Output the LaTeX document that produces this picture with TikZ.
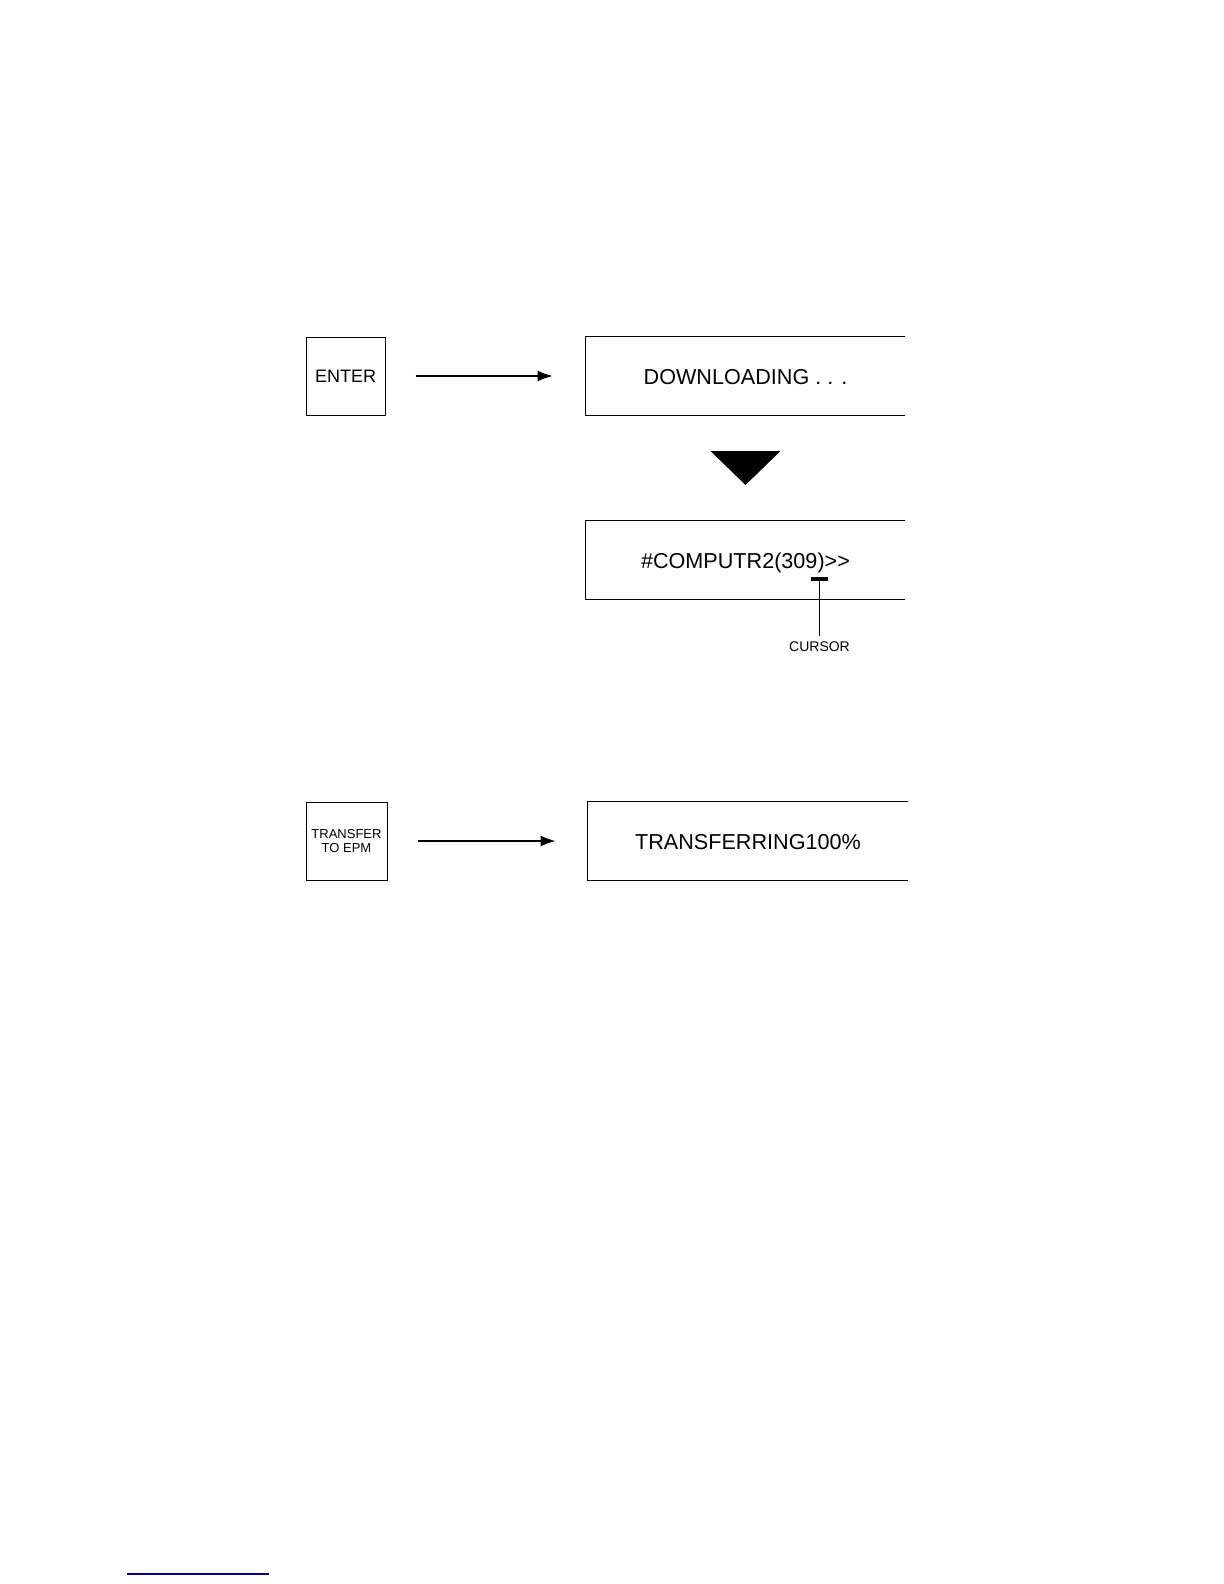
\documentclass[tikz,border=0pt]{standalone}
\usepackage{fontspec}
\setmainfont{Liberation Sans}
\usetikzlibrary{arrows.meta}
\colorlet{linkcol}{blue!55!black}
\tikzset{>={Latex[length=7.5pt,width=5.5pt]}}
\tikzstyle{key} = [draw, line width=0.5pt, minimum width=39.5pt, minimum height=39pt,
                   inner sep=0pt, align=center]
\tikzstyle{screen} = [minimum width=159.5pt, minimum height=39pt, inner sep=0pt,
                      text height=8.1pt, text depth=0pt,
                      font=\fontsize{10.8}{13}\selectfont]
\tikzstyle{frame} = [line width=0.6pt]
\tikzstyle{push} = [->, line width=0.8pt]

\begin{document}
\begin{tikzpicture}[x=0.5pt,y=-0.5pt]
  \useasboundingbox (0,0) rectangle (1224,1584);

  % KEYS
  \node[key, font=\fontsize{9}{10}\selectfont] (enter) at (345.5,376) {ENTER};
  \node[key, minimum width=40.5pt, font=\fontsize{6.5}{7}\selectfont] (xfer) at (346.5,841)
    {TRANSFER\\TO EPM};

  % SCREENS (open on the right)
  \node[screen] (dload) at (745.5,376) {DOWNLOADING . . .};
  \node[screen] (comp) at (745.5,560) {\#COMPUTR2(309)>{}>};
  \node[screen, minimum width=160pt] (xferring) at (748,841) {TRANSFERRING100\%};
  \foreach \s in {dload,comp,xferring}
    \draw[frame] (\s.north east) -- (\s.north west) -- (\s.south west) -- (\s.south east);

  % KEY PRESSES
  \draw[push, shorten <=15pt, shorten >=16.5pt] (enter) -- (dload);
  \draw[push, shorten <=15pt, shorten >=16pt] (xfer) -- (xferring);

  % NEXT SCREEN
  \fill (710.5,451) -- (780.5,451) -- (745.5,485) -- cycle;

  % CURSOR
  \node[fill, minimum width=8.5pt, minimum height=1.8pt, inner sep=0pt] (cbar) at (819.5,579) {};
  \node[font=\fontsize{7}{8}\selectfont, inner sep=3pt] (cursor) at (819.5,647) {CURSOR};
  \draw[line width=0.6pt] (cbar.south) -- (cursor.north);

  \draw[linkcol, line width=0.6pt] (127,1574) -- (269,1574);
\end{tikzpicture}
\end{document}
